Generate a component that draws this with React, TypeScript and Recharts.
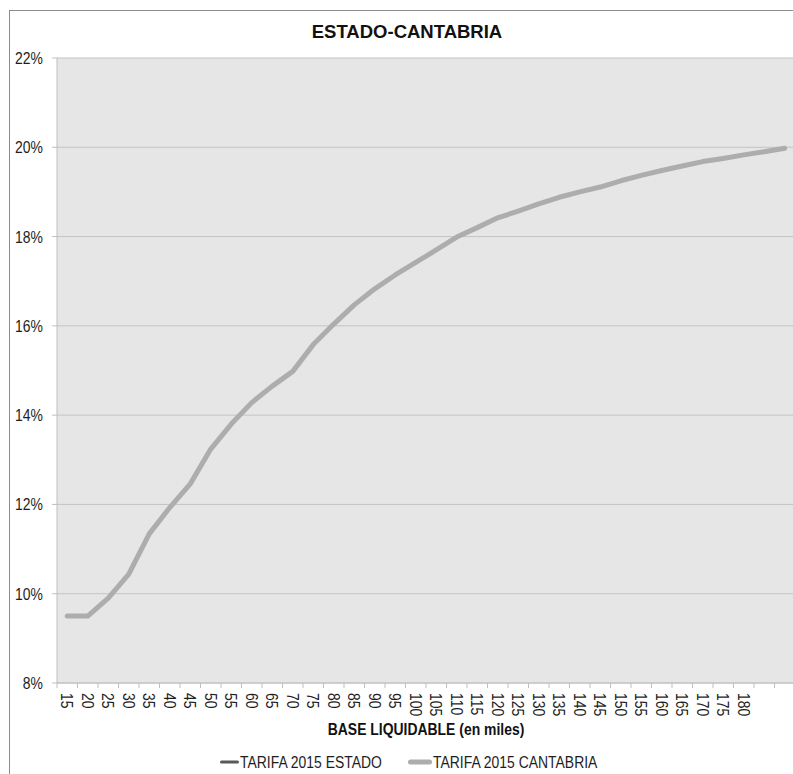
import React from "react"
import { LineChart, Line, XAxis, YAxis, CartesianGrid, Legend } from "recharts"

// Base liquidable, in thousands of euros (two trailing unlabeled steps)
const bases = [
  "15", "20", "25", "30", "35", "40", "45", "50", "55", "60", "65", "70",
  "75", "80", "85", "90", "95", "100", "105", "110", "115", "120", "125", "130",
  "135", "140", "145", "150", "155", "160", "165", "170", "175", "180", "", "",
]

// Average rate, %
const tarifaCantabria = [
  9.5, 9.5, 9.9, 10.44, 11.34, 11.93, 12.46, 13.24, 13.8, 14.28, 14.65, 14.98,
  15.58, 16.04, 16.47, 16.83, 17.14, 17.42, 17.7, 17.99, 18.2, 18.42, 18.57, 18.73,
  18.88, 19.0, 19.11, 19.25, 19.37, 19.48, 19.58, 19.68, 19.75, 19.83, 19.9, 19.98,
]
const tarifaEstado = [...tarifaCantabria]

const yTicks = [8, 10, 12, 14, 16, 18, 20, 22]

// each category sits in the middle of its slot on a 0..n numeric axis
const slots = bases.map((_, i) => i + 0.5)

const data = bases.map((base, i) => ({
  pos: slots[i],
  base,
  estado: tarifaEstado[i],
  cantabria: tarifaCantabria[i],
}))

const FONT = "'Liberation Sans', Arial, sans-serif"
// no narrow face installed, so regular glyphs get squeezed horizontally
const NARROW = 0.82
const CHART_W = 800
const CHART_H = 774
const MARGIN = { top: 58, right: 5, bottom: 0, left: 0 }
const YAXIS_W = 57
const BAND_W = (CHART_W - MARGIN.left - MARGIN.right - YAXIS_W) / bases.length

const AXIS_GRAY = "#bfbfbf"
const TEXT = "#1e1e1e"

// Category label rotated to read downward, with tick marks on the slot edges
function BaseTick(props: any) {
  const { x, y, payload, index } = props
  const left = x - BAND_W / 2
  const label = bases[Math.floor(payload.value)]
  return (
    <g>
      <line x1={left} x2={left} y1={y - 10} y2={y - 5} stroke={AXIS_GRAY} />
      {index === bases.length - 1 && (
        <line x1={x + BAND_W / 2} x2={x + BAND_W / 2} y1={y - 10} y2={y - 5} stroke={AXIS_GRAY} />
      )}
      <text
        transform={`translate(${x},${y}) rotate(90) scale(${NARROW},1)`}
        textAnchor="start"
        dominantBaseline="central"
        fontFamily={FONT}
        fontSize={17}
        fill={TEXT}
      >
        {label}
      </text>
    </g>
  )
}

function RateTick(props: any) {
  const { x, y, payload } = props
  return (
    <text
      transform={`translate(${x},${y}) scale(${NARROW},1)`}
      textAnchor="end"
      dominantBaseline="central"
      fontFamily={FONT}
      fontSize={17}
      fill={TEXT}
    >
      {`${payload.value}%`}
    </text>
  )
}

const legendItems = [
  { label: "TARIFA 2015 ESTADO", color: "#595959", thick: 3, x: 220, len: 19 },
  { label: "TARIFA 2015 CANTABRIA", color: "#adadad", thick: 5, x: 408, len: 24 },
]

function LegendContent() {
  return (
    <svg width={CHART_W} height={24} style={{ display: "block" }}>
      {legendItems.map((it) => (
        <g key={it.label}>
          <line
            x1={it.x + it.thick / 2}
            x2={it.x + it.len - it.thick / 2}
            y1={12}
            y2={12}
            stroke={it.color}
            strokeWidth={it.thick}
            strokeLinecap="round"
          />
          <text
            transform={`translate(${it.x + it.len + 1},18) scale(${NARROW},1)`}
            fontFamily={FONT}
            fontSize={17}
            fill={TEXT}
          >
            {it.label}
          </text>
        </g>
      ))}
    </svg>
  )
}

export default function App() {
  return (
    <div
      style={{
        position: "absolute",
        left: 0,
        top: 0,
        width: 793,
        height: 774,
        overflow: "hidden",
        background: "#fff",
      }}
    >
      <div
        style={{
          position: "absolute",
          left: 9,
          top: 10,
          width: 900,
          height: 900,
          border: "1px solid #8c8c8c",
        }}
      />
      <div style={{ position: "absolute", left: 0, top: 0 }}>
        <LineChart width={CHART_W} height={CHART_H} data={data} margin={MARGIN}>
          <text
            x={407}
            y={38}
            textAnchor="middle"
            fontFamily={FONT}
            fontSize={18.5}
            fontWeight="bold"
            fill="#111"
          >
            ESTADO-CANTABRIA
          </text>
          <CartesianGrid vertical={false} stroke="#c4c4c4" fill="#e6e6e6" />
          <XAxis
            dataKey="pos"
            type="number"
            domain={[0, bases.length]}
            ticks={slots}
            interval={0}
            height={67}
            stroke={AXIS_GRAY}
            tickLine={false}
            tickSize={0}
            tickMargin={10}
            tick={<BaseTick />}
            label={(p: any) => {
              const vb = p.viewBox
              return (
                <text
                  transform={`translate(${vb.x + vb.width / 2},735) scale(${NARROW},1)`}
                  textAnchor="middle"
                  fontFamily={FONT}
                  fontSize={17}
                  fontWeight="bold"
                  fill="#111"
                >
                  BASE LIQUIDABLE (en miles)
                </text>
              )
            }}
          />
          <YAxis
            width={YAXIS_W}
            domain={[8, 22]}
            ticks={yTicks}
            interval={0}
            stroke={AXIS_GRAY}
            tickSize={5}
            tickMargin={9}
            tick={<RateTick />}
          />
          <Legend verticalAlign="bottom" content={<LegendContent />} />
          <Line
            dataKey="estado"
            name="TARIFA 2015 ESTADO"
            stroke="#595959"
            strokeWidth={3}
            dot={false}
            isAnimationActive={false}
          />
          <Line
            dataKey="cantabria"
            name="TARIFA 2015 CANTABRIA"
            stroke="#adadad"
            strokeWidth={5}
            strokeLinecap="round"
            strokeLinejoin="round"
            dot={false}
            isAnimationActive={false}
          />
        </LineChart>
      </div>
    </div>
  )
}
